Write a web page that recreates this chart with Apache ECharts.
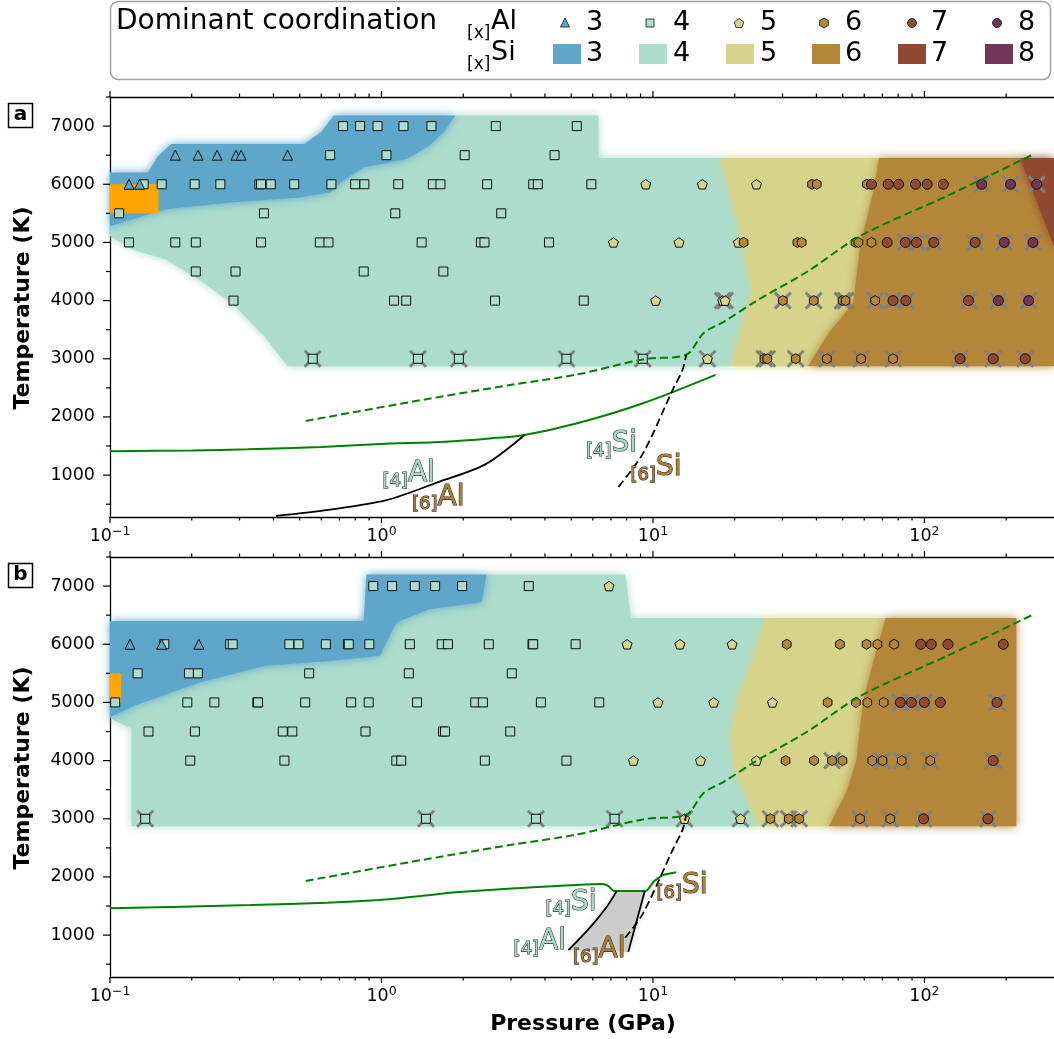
<!DOCTYPE html>
<html><head><meta charset="utf-8">
<script src="https://cdn.jsdelivr.net/npm/echarts/dist/echarts.min.js"></script>
<style>html,body{margin:0;padding:0;background:#fff}#c{width:1054px;height:1039px}</style>
</head><body><div id="c"></div>
<script>
// ================= DATA =================
const coordNames = ['3','4','5','6','7','8'];
const xMajorTicks = [0.1, 1, 10, 100];
const xMinorTicks = [0.2,0.3,0.4,0.5,0.6,0.7,0.8,0.9,2,3,4,5,6,7,8,9,20,30,40,50,60,70,80,90,200];
const yMajorTicks = [1000,2000,3000,4000,5000,6000,7000];
const yMinorTicks = [500,1500,2500,3500,4500,5500,6500,7500];

// ---- panel a : points [P (GPa), T (K)] by dominant Al coordination ----
const aAl3 = [[0.1175,6000],[0.1285,6000],[0.174,6500],[0.211,6500],[0.248,6500],[0.291,6500],[0.304,6500],[0.451,6500]];
const aAl4 = [
 [0.722,7000],[0.834,7000],[0.967,7000],[1.205,7000],[1.528,7000],[2.636,7000],[5.24,7000],
 [0.647,6500],[1.043,6500],[2.025,6500],[4.34,6500],
 [0.133,6000],[0.155,6000],[0.205,6000],[0.255,6000],[0.355,6000],[0.36,6000],[0.391,6000],[0.477,6000],[0.654,6000],[0.80,6000],[0.865,6000],[1.153,6000],[1.546,6000],[1.649,6000],[2.449,6000],[3.622,6000],[3.765,6000],[5.93,6000],
 [0.108,5500],[0.369,5500],[1.124,5500],[2.761,5500],
 [0.1175,5000],[0.174,5000],[0.207,5000],[0.36,5000],[0.593,5000],[0.638,5000],[1.406,5000],[2.324,5000],[2.395,5000],[4.14,5000],
 [0.207,4500],[0.29,4500],[0.86,4500],[1.69,4500],
 [0.285,4000],[1.112,4000],[1.233,4000],[2.619,4000],[5.56,4000],
 [0.558,3000],[1.363,3000],[1.927,3000],[4.80,3000],[9.17,3000]];
const aAl5 = [[9.41,6000],[15.19,6000],[24.05,6000],[7.15,5000],[12.47,5000],[20.63,5000],[10.23,4000],[18.06,4000],[18.44,4000],[15.87,3000]];
const aAl6 = [[38.54,6000],[40.1,6000],[61.4,6000],[21.57,5000],[34.04,5000],[35.3,5000],[55.7,5000],[57.1,5000],[63.8,5000],
 [30.07,4000],[39.1,4000],[49.9,4000],[51.2,4000],[65.8,4000],[25.73,3000],[26.35,3000],[33.56,3000],[43.7,3000],[58.4,3000],[76.6,3000]];
const aAl7 = [[63.8,6000],[73.5,6000],[80.3,6000],[92.7,6000],[102.3,6000],[117.4,6000],[72.9,5000],[85.0,5000],[93.4,5000],[108.2,5000],[153.7,5000],
 [76.6,4000],[85.4,4000],[145.3,4000],[135.3,3000],[179.1,3000],[235,3000]];
const aAl8 = [[162.5,6000],[207.5,6000],[259,6000],[196.7,5000],[251,5000],[187.2,4000],[242,4000]];
const aCrossed = [[0.558,3000],[1.363,3000],[1.927,3000],[4.80,3000],[9.17,3000],[15.87,3000],[25.73,3000],[26.35,3000],[33.56,3000],[43.7,3000],[58.4,3000],[76.6,3000],[135.3,3000],[179.1,3000],[235,3000],
 [18.06,4000],[18.44,4000],[30.07,4000],[39.1,4000],[49.9,4000],[51.2,4000],[65.8,4000],[76.6,4000],[85.4,4000],[145.3,4000],[187.2,4000],[242,4000],
 [85.0,5000],[93.4,5000],[108.2,5000],[153.7,5000],[196.7,5000],[251,5000],[162.5,6000],[207.5,6000],[259,6000]];

// ---- panel b ----
const bAl3 = [[0.1185,6000],[0.155,6000],[0.2125,6000]];
const bAl4 = [
 [0.933,7000],[1.094,7000],[1.326,7000],[1.576,7000],[1.982,7000],[3.487,7000],
 [0.1585,6000],[0.2771,6000],[0.2832,6000],[0.4577,6000],[0.495,6000],[0.624,6000],[0.752,6000],[0.758,6000],[0.902,6000],[1.272,6000],[1.667,6000],[1.757,6000],[2.485,6000],[3.60,6000],[3.62,6000],[5.19,6000],
 [0.1264,5500],[0.1954,5500],[0.2107,5500],[0.5415,5500],[1.261,5500],[3.02,5500],
 [0.1045,5000],[0.1927,5000],[0.2423,5000],[0.349,5000],[0.351,5000],[0.5235,5000],[0.773,5000],[0.897,5000],[1.352,5000],[2.216,5000],[2.363,5000],[3.866,5000],[6.34,5000],
 [0.1386,4500],[0.2055,4500],[0.4329,4500],[0.4694,4500],[0.873,4500],[1.685,4500],[1.714,4500],[2.98,4500],
 [0.1975,4000],[0.439,4000],[1.134,4000],[1.182,4000],[2.403,4000],[4.80,4000],
 [0.1348,3000],[1.458,3000],[3.707,3000],[7.22,3000]];
const bAl5 = [[6.89,7000],[8.03,6000],[12.57,6000],[19.56,6000],[10.43,5000],[16.74,5000],[27.54,5000],[8.47,4000],[14.96,4000],[24.05,4000],[13.06,3000],[21.0,3000]];
const bAl6 = [[31.1,6000],[48.8,6000],[61.2,6000],[67.1,6000],[77.3,6000],[44.0,5000],[55.9,5000],[61.6,5000],[70.8,5000],
 [30.8,4000],[39.2,4000],[45.7,4000],[49.9,4000],[64.2,4000],[70.1,4000],[82.5,4000],[105,4000],[27.07,3000],[31.62,3000],[34.55,3000],[57.9,3000],[74.8,3000]];
const bAl7 = [[96.9,6000],[105.9,6000],[122.1,6000],[195.1,6000],[81.5,5000],[89.5,5000],[99.9,5000],[114.4,5000],[185.0,5000],[179.1,4000],[99.3,3000],[171.3,3000]];
const bCrossed = [[0.1348,3000],[1.458,3000],[3.707,3000],[7.22,3000],[13.06,3000],[21.0,3000],[27.07,3000],[31.62,3000],[34.55,3000],[57.9,3000],[74.8,3000],[99.3,3000],[171.3,3000],
 [45.7,4000],[70.1,4000],[82.5,4000],[105,4000],[179.1,4000],[81.5,5000],[89.5,5000],[99.9,5000],[185.0,5000]];

// ---- dominant Si coordination regions (polygon vertices [P, T]) ----
const regA_si3 = [[0.1,6200],[0.138,6200],[0.15,6480],[0.168,6690],[0.52,6690],[0.6,6900],[0.668,7180],[1.87,7180],[1.7,6900],[1.5,6660],[1.233,6430],[0.858,6290],[0.706,6030],[0.648,5860],[0.49,5770],[0.281,5685],[0.161,5570],[0.1216,5400],[0.1,5280]];
const regA_si4 = [[0.1,5280],[0.1216,5400],[0.161,5570],[0.281,5685],[0.49,5770],[0.648,5860],[0.706,6030],[0.858,6290],[1.233,6430],[1.5,6660],[1.7,6900],[1.87,7180],[6.3,7180],[6.3,6450],[17.8,6450],[20.6,5339],[23.2,4190],[19.4,2870],[0.451,2870],[0.371,3384],[0.281,3960],[0.212,4362],[0.161,4707],[0.121,4879],[0.1,5109]];
const regA_si5 = [[17.8,6450],[68,6450],[65.1,5914],[57.9,4936],[54.6,3960],[44.4,3443],[37.2,2870],[19.4,2870],[23.2,4190],[20.6,5339]];
const regA_si6 = [[68,6450],[224.7,6450],[300,4914],[300,2870],[37.2,2870],[44.4,3443],[54.6,3960],[57.9,4936],[65.1,5914]];
const regA_si7 = [[224.7,6450],[300,6450],[300,4914]];
const orangeA = [[0.1,6000],[0.151,6000],[0.151,5500],[0.1,5500]];

const regB_si3 = [[0.1,6400],[0.86,6400],[0.88,7200],[2.44,7200],[2.34,6720],[1.498,6600],[1.134,6374],[1.043,6029],[0.985,5798],[0.647,5712],[0.371,5626],[0.2125,5339],[0.1216,4936],[0.1,4736]];
const regB_si4 = [[0.1,4736],[0.1216,4936],[0.2125,5339],[0.371,5626],[0.647,5712],[0.985,5798],[1.043,6029],[1.134,6374],[1.498,6600],[2.34,6720],[2.44,7200],[7.9,7200],[8.3,6450],[26.1,6450],[23.2,5741],[20.6,5052],[19.4,4477],[19.9,3902],[21.9,3443],[24.6,2870],[0.12,2870],[0.12,4550],[0.105,4680]];
const regB_si5 = [[26.1,6450],[72,6450],[65.1,5741],[59.6,5052],[57.9,4591],[56.2,4017],[51.4,3443],[44.4,2870],[24.6,2870],[21.9,3443],[19.9,3902],[19.4,4477],[20.6,5052],[23.2,5741]];
const regB_si6 = [[72,6450],[218,6450],[218,2870],[44.4,2870],[51.4,3443],[56.2,4017],[57.9,4591],[59.6,5052],[65.1,5741]];
const orangeB = [[0.1,5500],[0.11,5500],[0.11,5000],[0.1,5000]];
const grayB = [[4.88,741],[5.89,1143],[6.76,1488],[7.36,1760],[9.33,1760],[8.11,712]];

// ---- curves ----
const greenSolidA = [[0.1,1410],[0.2,1425],[0.323,1443],[0.6,1485],[0.986,1534],[1.72,1574],[2.5,1630],[3.365,1690],[5.26,1891],[9.19,2236],[17.0,2724]];
const greenDashed = [[0.526,1931],[1.304,2264],[3.01,2552],[5.16,2724],[9.30,2994],[13.26,3069],[15.37,3443],[18.34,3643],[23.9,3988],[37.2,4505],[57.9,5109],[120.9,5798],[253,6517]];
const blackSolidA = [[0.409,299],[0.648,408],[1.043,569],[1.63,885],[2.41,1184],[3.365,1690]];
const blackDashedA = [[7.46,798],[9.19,1374],[11.82,2466],[12.85,2810],[13.26,3069]];
const greenSolidB = [[0.1,1460],[0.331,1517],[0.629,1557],[0.985,1603],[1.401,1672],[1.869,1736],[3.12,1805],[6.52,1879],[6.84,1845],[7.18,1760],[9.43,1760],[10.05,1919],[10.9,2034],[12.18,2081]];
const blackSolidB1 = [[4.88,741],[5.89,1143],[6.76,1488],[7.36,1760]];
const blackSolidB2 = [[8.11,712],[9.33,1760]];
const blackDashedB = [[7.9,955],[9.19,1374],[11.82,2466],[12.85,2810],[13.26,3069]];

// ---- in-plot labels ----
const labelA_pos = [[1.259,1017],[1.618,612],[7.03,1534],[10.26,1121]];
const labelA_sub = ['[4]','[6]','[4]','[6]'];
const labelA_main = ['Al','Al','Si','Si'];
const labelA_coord = [4,6,4,6];
const labelB_pos = [[4.99,1560],[3.83,879],[6.34,741],[12.8,1845]];
const labelB_sub = ['[4]','[4]','[6]','[6]'];
const labelB_main = ['Si','Al','Al','Si'];
const labelB_coord = [4,4,6,6];

// ================= STYLE =================
const F = 'DejaVu Sans';
const C = {3:'#5fa7ca',4:'#acdccb',5:'#d6d38a',6:'#b4863a',7:'#904a31',8:'#713659'};
const LABEL_FILL = {4:'#a8d8c7',6:'#ad7f36'};
const SYM = {3:'triangle',4:'rect',
  5:'path://M0,-1L0.951,-0.309L0.588,0.809L-0.588,0.809L-0.951,-0.309Z',
  6:'path://M0,-1L0.866,-0.5L0.866,0.5L0,1L-0.866,0.5L-0.866,-0.5Z',
  7:'circle',8:'circle'};
const SIZE = {3:10,4:9,5:10,6:10,7:10,8:10};
const GREEN = '#008000';

const grids = [{left:110, top:97, width:956, height:420},{left:110, top:557, width:956, height:420}];

function fmtX(v){
  const l = Math.log10(v), e = Math.round(l);
  if (Math.abs(l-e) > 1e-6) return '';
  return '{b|10}{s|' + (e<0?'\u2212':'') + Math.abs(e) + '}';
}
function xAx(gi, top){
  return {type:'log', logBase:10, gridIndex:gi, min:0.1, max:300, position: top?'top':'bottom',
    axisLine:{show:true, onZero:false, lineStyle:{color:'#000', width:1.3}},
    axisTick:{show:false}, splitLine:{show:false}, minorTick:{show:false},
    axisLabel: top ? {show:false} : {show:true, margin:8, showMaxLabel:false, formatter:fmtX,
      rich:{b:{fontSize:17.5, fontFamily:F, color:'#000'}, s:{fontSize:12.5, fontFamily:F, color:'#000', padding:[0,0,10,0]}}}};
}
function yAx(gi){
  return {type:'value', gridIndex:gi, min:280, max:7500, splitNumber:7,
    axisLine:{show:true, onZero:false, lineStyle:{color:'#000', width:1.3}},
    axisTick:{show:false}, splitLine:{show:false},
    axisLabel:{show:true, margin:15, fontSize:17.5, fontFamily:F, color:'#000', showMinLabel:false, showMaxLabel:false,
      formatter:(v)=>String(Math.round(v))}};
}
function regionSeries(gi, regs, z){
  return {type:'custom', xAxisIndex:2*gi, yAxisIndex:gi, z:z, silent:true,
    data: regs.map((r,i)=>[r.pts[0][0], r.pts[0][1], i]),
    renderItem:(params, api)=>{
      const r = regs[api.value(2)];
      return {type:'polygon', shape:{points:r.pts.map(p=>api.coord(p))},
        style:{fill:r.color, shadowBlur:r.blur||0, shadowColor:r.color}};
    }};
}
function markerSeries(gi, data, c){
  return {type:'scatter', xAxisIndex:2*gi, yAxisIndex:gi, data:data, symbol:SYM[c], symbolSize:SIZE[c], symbolKeepAspect:true,
    itemStyle:{color:C[c], borderColor:'#111', borderWidth:1, opacity:1}, z:6, silent:true};
}
function crossSeries(gi, data){
  return {type:'scatter', xAxisIndex:2*gi, yAxisIndex:gi, data:data, symbol:'path://M0,0L10,10M10,0L0,10', symbolSize:16,
    itemStyle:{color:'rgba(0,0,0,0)', borderColor:'#808080', borderWidth:3, opacity:1}, z:5, silent:true};
}
function lineSeries(gi, data, color, dashed, width, smooth){
  return {type:'line', xAxisIndex:2*gi, yAxisIndex:gi, data:data, showSymbol:false, symbol:'none', smooth:smooth,
    lineStyle:{color:color, width:width, type: dashed ? [8,4] : 'solid'}, z:7, silent:true};
}
function labelSeries(gi, pos, sub, main, coord){
  return {type:'custom', xAxisIndex:2*gi, yAxisIndex:gi, z:8, silent:true,
    data: pos.map((p,i)=>[p[0], p[1], i]),
    renderItem:(params, api)=>{
      const i = api.value(2), pt = api.coord([api.value(0), api.value(1)]);
      const col = LABEL_FILL[coord[i]];
      return {type:'text', x:pt[0], y:pt[1], style:{text:'{s|'+sub[i]+'}{m|'+main[i]+'}', align:'center', verticalAlign:'middle',
        rich:{s:{fontSize:18, fontFamily:F, fill:col, stroke:'#2a2a2a', lineWidth:1.1, verticalAlign:'bottom', lineHeight:15},
              m:{fontSize:28, fontFamily:F, fill:col, stroke:'#2a2a2a', lineWidth:1.1, lineHeight:32}}}};
    }};
}
function tickSeries(gi){
  const data = [];
  xMajorTicks.forEach(v=>data.push([v,1000,0,6]));
  xMinorTicks.forEach(v=>data.push([v,1000,0,3.5]));
  yMajorTicks.forEach(v=>data.push([1,v,1,7]));
  yMinorTicks.forEach(v=>data.push([1,v,1,4]));
  return {type:'custom', xAxisIndex:2*gi, yAxisIndex:gi, z:10, silent:true, data:data,
    renderItem:(params, api)=>{
      const cs = params.coordSys, kind = api.value(2), len = api.value(3);
      const st = {stroke:'#000', lineWidth:1.2};
      if (kind === 0){
        const x = api.coord([api.value(0), 1000])[0];
        return {type:'group', children:[
          {type:'line', shape:{x1:x, y1:cs.y+cs.height, x2:x, y2:cs.y+cs.height+len}, style:st},
          {type:'line', shape:{x1:x, y1:cs.y, x2:x, y2:cs.y-len}, style:st}]};
      }
      const y = api.coord([1, api.value(1)])[1];
      return {type:'line', shape:{x1:cs.x-len, y1:y, x2:cs.x, y2:y}, style:st};
    }};
}

const BL = 10;
const regionsA = [
  {pts:regA_si4, color:C[4], blur:BL},{pts:regA_si5, color:C[5], blur:BL},{pts:regA_si6, color:C[6], blur:BL},
  {pts:regA_si7, color:C[7], blur:BL},{pts:regA_si3, color:C[3], blur:BL},{pts:orangeA, color:'#ffa500', blur:0}];
const regionsB = [
  {pts:regB_si4, color:C[4], blur:BL},{pts:regB_si5, color:C[5], blur:BL},{pts:regB_si6, color:C[6], blur:BL},
  {pts:regB_si3, color:C[3], blur:BL},{pts:orangeB, color:'#ffa500', blur:0},{pts:grayB, color:'#cccccc', blur:6}];

const series = [
  regionSeries(0, regionsA, 1), regionSeries(1, regionsB, 1),
  lineSeries(0, greenSolidA, GREEN, false, 2, 0.3),
  lineSeries(0, greenDashed, GREEN, true, 2, 0.3),
  lineSeries(0, blackSolidA, '#000', false, 1.8, 0.3),
  lineSeries(0, blackDashedA, '#000', true, 1.8, 0.3),
  lineSeries(1, greenSolidB, GREEN, false, 2, 0.15),
  lineSeries(1, greenDashed, GREEN, true, 2, 0.3),
  lineSeries(1, blackSolidB1, '#000', false, 1.8, 0.3),
  lineSeries(1, blackSolidB2, '#000', false, 1.8, false),
  lineSeries(1, blackDashedB, '#000', true, 1.8, 0.3),
  crossSeries(0, aCrossed), crossSeries(1, bCrossed),
  markerSeries(0, aAl4, 4), markerSeries(0, aAl3, 3), markerSeries(0, aAl5, 5), markerSeries(0, aAl6, 6), markerSeries(0, aAl7, 7), markerSeries(0, aAl8, 8),
  markerSeries(1, bAl4, 4), markerSeries(1, bAl3, 3), markerSeries(1, bAl5, 5), markerSeries(1, bAl6, 6), markerSeries(1, bAl7, 7),
  labelSeries(0, labelA_pos, labelA_sub, labelA_main, labelA_coord),
  labelSeries(1, labelB_pos, labelB_sub, labelB_main, labelB_coord),
  tickSeries(0), tickSeries(1)
];

// ---- legend & titles (decoration) ----
function txt(x, y, s, size, opts){
  return Object.assign({type:'text', x:x, y:y, z:101,
    style:{text:s, fontSize:size, fontFamily:F, fill:'#000', align:'left', verticalAlign:'middle', textAlign:'left', textVerticalAlign:'middle'}}, opts||{});
}
function ctxt(x, y, s, size, bold, rot){
  return {type:'text', x:x, y:y, z:101, rotation:rot||0,
    style:{text:s, fontSize:size, fontWeight:bold?'bold':'normal', fontFamily:F, fill:'#000', align:'center', verticalAlign:'middle', textAlign:'center', textVerticalAlign:'middle'}};
}
function regPoly(cx, cy, r, n, rot){
  const pts = [];
  for (let k=0;k<n;k++){ const a = rot + k*2*Math.PI/n; pts.push([cx + r*Math.cos(a), cy + r*Math.sin(a)]); }
  return pts;
}
const legX = [586, 673, 760, 845, 931, 1018];
const legPatchX = [553, 639, 726, 812, 898, 985];
const mk = {stroke:'#111', lineWidth:0.8};
const graphic = [
  {type:'rect', z:100, shape:{x:110.5, y:1.5, width:940, height:78, r:8}, style:{fill:'#fff', stroke:'#a0a0a0', lineWidth:1.5}},
  txt(116, 22, 'Dominant coordination', 28),
  txt(467, 34, '[x]', 17), txt(491, 22, 'Al', 27),
  txt(467, 65, '[x]', 17), txt(491, 53, 'Si', 27),
  {type:'polygon', z:101, shape:{points:[[565,18],[569.5,27],[560.5,27]]}, style:Object.assign({fill:C[3]}, mk)},
  {type:'rect', z:101, shape:{x:646, y:19, width:8, height:8}, style:Object.assign({fill:C[4]}, mk)},
  {type:'polygon', z:101, shape:{points:regPoly(739, 23.5, 5, 5, -Math.PI/2)}, style:Object.assign({fill:C[5]}, mk)},
  {type:'polygon', z:101, shape:{points:regPoly(824, 23, 5, 6, -Math.PI/2)}, style:Object.assign({fill:C[6]}, mk)},
  {type:'circle', z:101, shape:{cx:912, cy:23, r:4.5}, style:Object.assign({fill:C[7]}, mk)},
  {type:'circle', z:101, shape:{cx:997, cy:23, r:4.5}, style:Object.assign({fill:C[8]}, mk)}
];
coordNames.forEach((n,i)=>{
  graphic.push(txt(legX[i], 23, n, 27));
  graphic.push(txt(legX[i], 54, n, 27));
  graphic.push({type:'rect', z:101, shape:{x:legPatchX[i], y:44, width:28, height:20}, style:{fill:C[i+3]}});
});
graphic.push(ctxt(23, 308, 'Temperature (K)', 22, true, Math.PI/2));
graphic.push(ctxt(23, 768, 'Temperature (K)', 22, true, Math.PI/2));
graphic.push(ctxt(583, 1024, 'Pressure (GPa)', 22, true, 0));
[['a',103],['b',563]].forEach(([l,y])=>{
  graphic.push({type:'rect', z:100, shape:{x:8.5, y:y+0.5, width:24, height:24}, style:{fill:'#fff', stroke:'#000', lineWidth:1.5}});
  graphic.push(ctxt(20.5, y+12, l, 20, true, 0));
});

const chart = echarts.init(document.getElementById('c'), null, {renderer:'canvas', width:1054, height:1039});
chart.setOption({
  animation:false, backgroundColor:'#fff',
  grid: grids,
  xAxis: [xAx(0,false), xAx(0,true), xAx(1,false), xAx(1,true)],
  yAxis: [yAx(0), yAx(1)],
  series: series,
  graphic: graphic
});
</script></body></html>
